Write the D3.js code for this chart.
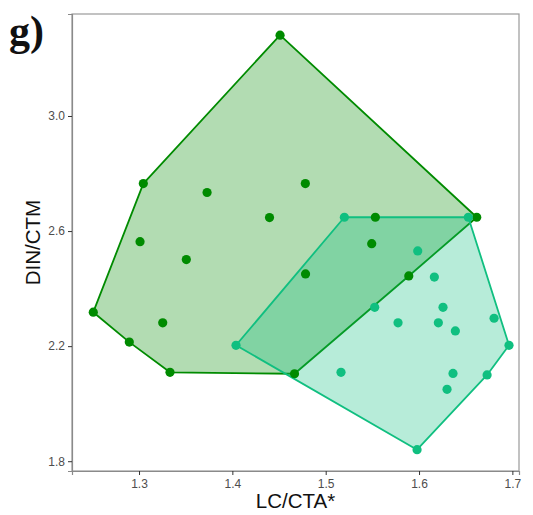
<!DOCTYPE html>
<html>
<head>
<meta charset="utf-8">
<script src="https://cdn.jsdelivr.net/npm/d3@7"></script>
<style>
  html, body { margin: 0; padding: 0; background: #fff; }
  svg { display: block; }
</style>
</head>
<body>
<svg id="chart" width="533" height="515"></svg>
<script>
// Group 1 (dark green): LC/CTA* and DIN/CTM values
const groupA_x = [1.4511, 1.3046, 1.3729, 1.4782, 1.4398, 1.3011, 1.3507, 1.4784, 1.2510,
                  1.3254, 1.2896, 1.3332, 1.4666, 1.5532, 1.5493, 1.5890, 1.6618];
const groupA_y = [3.281, 2.765, 2.734, 2.765, 2.647, 2.563, 2.501, 2.451, 2.318,
                  2.281, 2.214, 2.109, 2.104, 2.648, 2.556, 2.444, 2.648];

// Group 2 (light green)
const groupB_x = [1.5200, 1.6528, 1.5986, 1.6164, 1.5525, 1.6257, 1.5775, 1.6207, 1.6389,
                  1.6804, 1.6964, 1.4039, 1.5164, 1.6364, 1.6729, 1.6300, 1.5979];
const groupB_y = [2.648, 2.648, 2.531, 2.440, 2.335, 2.335, 2.281, 2.281, 2.253,
                  2.297, 2.203, 2.203, 2.109, 2.105, 2.100, 2.050, 1.840];

const xTicks = [1.3, 1.4, 1.5, 1.6, 1.7];
const yTicks = [1.8, 2.2, 2.6, 3.0];

const colorA = "#008b00";
const colorB = "#10bf80";

(function () {
  const svg = d3.select("#chart");
  const pLeft = 72, pRight = 519, pTop = 14, pBottom = 471;

  const x = d3.scaleLinear().domain([1.2282, 1.7071]).range([pLeft, pRight]);
  const y = d3.scaleLinear().domain([1.766, 3.3545]).range([pBottom, pTop]);

  // Panel label
  svg.append("text")
    .attr("x", 9).attr("y", 45)
    .attr("font-family", "Liberation Serif, DejaVu Serif, serif")
    .attr("font-weight", "bold")
    .attr("font-size", 42)
    .attr("fill", "#111")
    .text("g)");

  const groups = [
    { xs: groupA_x, ys: groupA_y, color: colorA },
    { xs: groupB_x, ys: groupB_y, color: colorB }
  ];

  // Convex hulls
  groups.forEach(g => {
    const pts = g.xs.map((v, i) => [x(v), y(g.ys[i])]);
    const hull = d3.polygonHull(pts);
    svg.append("path")
      .attr("d", "M" + hull.map(p => p.join(",")).join("L") + "Z")
      .attr("fill", g.color)
      .attr("fill-opacity", 0.3)
      .attr("stroke", g.color)
      .attr("stroke-width", 1.8)
      .attr("stroke-linejoin", "round");
  });

  // Points
  groups.forEach(g => {
    svg.append("g").selectAll("circle")
      .data(g.xs.map((v, i) => [v, g.ys[i]]))
      .join("circle")
      .attr("cx", d => x(d[0]))
      .attr("cy", d => y(d[1]))
      .attr("r", 4.6)
      .attr("fill", g.color);
  });

  // Panel border
  svg.append("rect")
    .attr("x", pLeft).attr("y", pTop)
    .attr("width", pRight - pLeft).attr("height", pBottom - pTop)
    .attr("fill", "none")
    .attr("stroke", "#9a9a9a")
    .attr("stroke-width", 1.2);

  // Axes
  const xAxis = svg.append("g")
    .attr("transform", `translate(0,${pBottom})`)
    .call(d3.axisBottom(x).tickValues(xTicks).tickFormat(d3.format(".1f")).tickSizeOuter(0).tickSize(4).tickPadding(4));
  const yAxis = svg.append("g")
    .attr("transform", `translate(${pLeft},0)`)
    .call(d3.axisLeft(y).tickValues(yTicks).tickFormat(d3.format(".1f")).tickSizeOuter(0).tickSize(4).tickPadding(3));

  [xAxis, yAxis].forEach(a => {
    a.select(".domain").attr("stroke", "#8a8a8a").attr("stroke-width", 1.2);
    a.selectAll(".tick line").attr("stroke", "#333");
    a.selectAll(".tick text")
      .attr("fill", "#4d4d4d")
      .attr("font-family", "Liberation Sans, Arial, sans-serif")
      .attr("font-size", 12);
  });

  // Axis titles
  svg.append("text")
    .attr("x", (pLeft + pRight) / 2).attr("y", 508)
    .attr("text-anchor", "middle")
    .attr("font-family", "Liberation Sans, Arial, sans-serif")
    .attr("font-size", 20.5)
    .attr("fill", "#111")
    .text("LC/CTA*");

  svg.append("text")
    .attr("transform", `translate(40,${(pTop + pBottom) / 2}) rotate(-90)`)
    .attr("text-anchor", "middle")
    .attr("font-family", "Liberation Sans, Arial, sans-serif")
    .attr("font-size", 20.5)
    .attr("fill", "#111")
    .text("DIN/CTM");
})();
</script>
</body>
</html>
